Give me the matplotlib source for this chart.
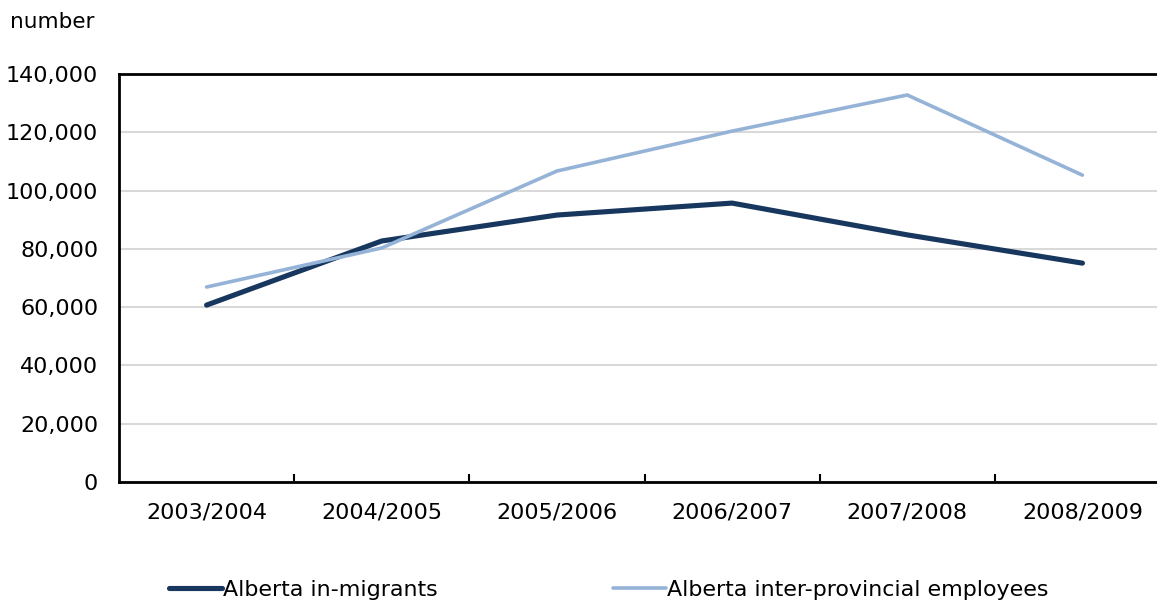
import numpy as np
import matplotlib.pyplot as plt

years = ["2003/2004", "2004/2005", "2005/2006", "2006/2007", "2007/2008", "2008/2009"]
in_migrants = [60700, 82700, 91600, 95700, 84800, 75100]
employees = [66900, 80300, 106700, 120400, 132800, 105300]

dark = "#17375e"
light = "#95b3d7"

plt.rcParams["font.family"] = ["DejaVu Sans"]

fig = plt.figure(figsize=(11.57, 6.01), dpi=100)
ax = fig.add_axes([119 / 1157, 1 - 482 / 601, 1051 / 1157, 408 / 601])

x = np.arange(len(years))
ax.plot(x, in_migrants, color=dark, lw=3.7, solid_capstyle="round", label="Alberta in-migrants", zorder=3)
ax.plot(x, employees, color=light, lw=2.6, solid_capstyle="round", label="Alberta inter-provincial employees", zorder=3)

ax.set_xlim(-0.5, len(years) - 0.5)
ax.set_ylim(0, 140000)
ax.set_yticks(np.arange(0, 140001, 20000))
ax.set_yticklabels([f"{v:,}" for v in range(0, 140001, 20000)])
ax.yaxis.grid(True, color="#d9d9d9", lw=1.5)
ax.set_axisbelow(True)
ax.tick_params(axis="y", length=0, pad=15, labelsize=16, colors="black")

ax.set_xticks(x)
ax.set_xticklabels(years)
ax.set_xticks(np.arange(0.5, len(years) - 0.5), minor=True)
ax.tick_params(axis="x", which="major", length=0, pad=15, labelsize=16)
ax.tick_params(axis="x", which="minor", direction="in", length=6, width=1.5)

for side in ["left", "bottom", "top", "right"]:
    ax.spines[side].set_linewidth(2)
    ax.spines[side].set_color("black")

fig.text(10 / 1157, 1 - 22 / 601, "number", fontsize=15.5, va="center", ha="left")

fig.legend(loc="center left", bbox_to_anchor=(149 / 1157, 1 - 590 / 601), ncol=2,
           frameon=False, handlelength=2.4, handletextpad=0.05, columnspacing=7.95,
           prop={"size": 15.9})

fig.savefig("out.png", dpi=100)
